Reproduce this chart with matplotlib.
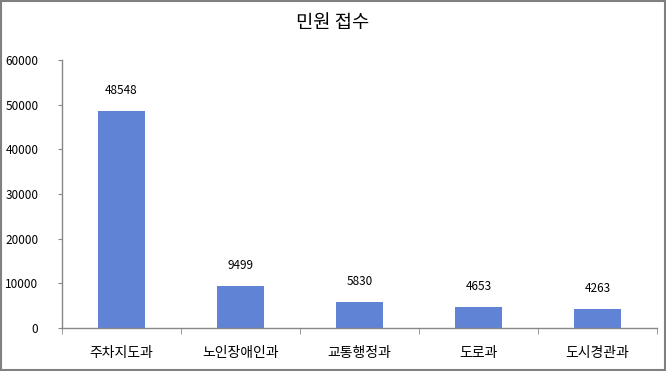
import matplotlib
matplotlib.use("Agg")
import matplotlib.pyplot as plt
from matplotlib.patches import Rectangle

plt.rcParams['font.family'] = ['Noto Sans CJK KR', 'DejaVu Sans']

title = "민원 접수"
categories = ["주차지도과", "노인장애인과", "교통행정과", "도로과", "도시경관과"]
values = [48548, 9499, 5830, 4653, 4263]
yticks = [0, 10000, 20000, 30000, 40000, 50000, 60000]

bar_color = "#6183D6"
axis_color = "#888888"

fig = plt.figure(figsize=(6.66, 3.71), dpi=100)
ax = fig.add_axes([0.0931, 0.1159, 0.8934, 0.7224])

x = list(range(len(categories)))
bars = ax.bar(x, values, width=0.4, color=bar_color, zorder=2)
for xi, v in zip(x, values):
    ax.annotate(str(v), (xi, v), xytext=(0, 10), textcoords="offset points",
                ha="center", va="bottom", fontsize=8.5, color="#000000")

ax.set_xlim(-0.5, len(categories) - 0.5)
ax.set_ylim(0, 60000)
ax.set_yticks(yticks)
ax.set_yticklabels([str(t) for t in yticks], fontsize=8.5)
ax.set_xticks(x)
ax.set_xticklabels(categories, fontsize=10)
ax.tick_params(axis='x', length=0, pad=13)
ax.set_xticks([i - 0.5 for i in range(len(categories) + 1)], minor=True)
ax.tick_params(axis='x', which='minor', length=4, color=axis_color, direction='out')
ax.tick_params(axis='y', length=3, color=axis_color, pad=14)

for s in ['top', 'right']:
    ax.spines[s].set_visible(False)
for s in ['left', 'bottom']:
    ax.spines[s].set_color(axis_color)
    ax.spines[s].set_linewidth(1)

fig.text(0.5, 0.94, title, ha="center", va="center", fontsize=13.5)

fig.patches.append(Rectangle((0.001, 0.002), 0.997, 0.995, transform=fig.transFigure,
                             fill=False, edgecolor="#808080", linewidth=1.5))

fig.savefig("out.png", dpi=100)
